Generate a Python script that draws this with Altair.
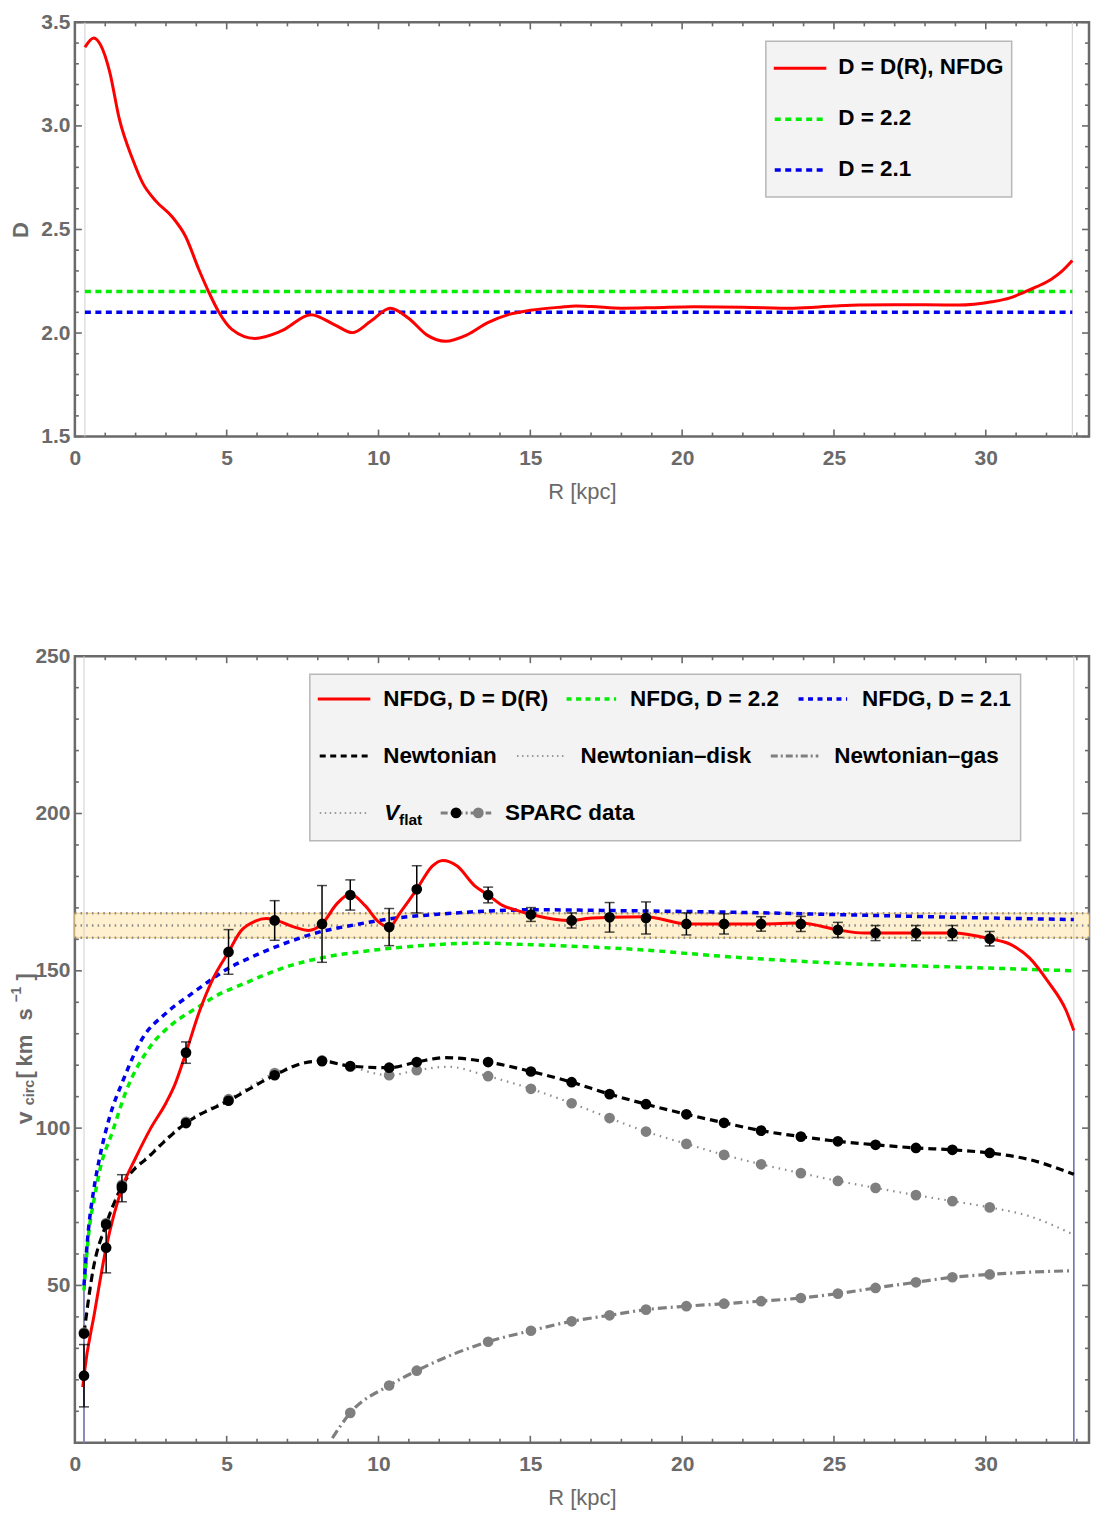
import altair as alt
import pandas as pd
import numpy as np

FONT = "Liberation Sans, Arial, sans-serif"
GRAY = "#6a6a6a"

# ---------------- top panel data ----------------
R_top = [0.33, 0.62, 0.85, 1.14, 1.47, 1.90, 2.23, 2.67, 3.21, 3.65, 4.08, 4.41, 4.73,
         5.17, 5.93, 6.8, 7.78, 8.54, 9.14, 9.74, 10.39, 11.0, 11.6, 12.2, 12.9, 13.6, 14.3,
         15.0, 16.0, 16.5, 17.0, 18.0, 19.0, 20.4, 22.0, 23.67, 25.0, 25.85, 27.0, 28.0, 29.1,
         30.2, 30.8, 31.28, 31.7, 32.16, 32.52, 32.85]
D_top = [3.38, 3.425, 3.39, 3.265, 3.03, 2.84, 2.725, 2.637, 2.56, 2.465, 2.308, 2.198, 2.104,
         2.018, 1.974, 2.01, 2.088, 2.041, 2.002, 2.057, 2.12, 2.07, 1.99, 1.96, 1.99, 2.05, 2.09,
         2.11, 2.125, 2.13, 2.128, 2.12, 2.122, 2.127, 2.125, 2.12, 2.13, 2.135, 2.137, 2.136, 2.135,
         2.151, 2.17, 2.198, 2.225, 2.26, 2.30, 2.35]
D_CONST = [2.2, 2.1]
R_SPAN_TOP = [0.33, 32.85]

# ---------------- bottom panel data ----------------
R_obs = [0.30, 1.03, 1.55, 3.66, 5.06, 6.58, 8.14, 9.07, 10.35, 11.26, 13.61, 15.02, 16.36,
         17.61, 18.81, 20.14, 21.38, 22.60, 23.91, 25.13, 26.37, 27.70, 28.90, 30.13]
V_obs = [21.3, 62.0, 80.9, 124.0, 156.0, 166.0, 164.9, 174.1, 163.9, 175.9, 174.1, 167.9, 166.0,
         167.0, 166.8, 164.9, 164.9, 164.9, 164.9, 163.0, 162.0, 162.0, 162.0, 160.2]
E_obs = [9.9, 8.0, 4.3, 3.4, 7.1, 6.3, 12.2, 4.8, 5.9, 7.5, 2.5, 2.2, 2.4,
         4.7, 5.1, 3.5, 3.2, 2.3, 2.4, 2.4, 2.4, 2.4, 2.4, 2.3]
V_newt_pts = [34.7, 69.4, 81.5, 101.6, 108.7, 116.8, 121.3, 119.7, 119.2, 121.0, 121.0, 118.0, 114.6,
              110.8, 107.6, 104.4, 101.7, 99.2, 97.3, 95.8, 94.7, 93.7, 93.1, 92.1]
V_disk_pts = [35.0, 69.8, 82.0, 102.0, 109.2, 117.5, 121.5, 119.5, 116.8, 118.4, 116.5, 112.5, 107.9,
              103.2, 98.9, 95.0, 91.5, 88.5, 85.7, 83.2, 81.0, 78.7, 76.8, 74.8]
R_gas_pts = [9.07, 10.35, 11.26, 13.61, 15.02, 16.36, 17.61, 18.81, 20.14, 21.38, 22.60, 23.91,
             25.13, 26.37, 27.70, 28.90, 30.13]
V_gas_pts = [9.5, 18.2, 22.9, 32.1, 35.6, 38.6, 40.5, 42.3, 43.4, 44.2, 45.0, 46.0,
             47.4, 49.2, 51.0, 52.6, 53.5]

R_red = [0.26, 0.30, 0.65, 1.03, 1.55, 2.0, 2.5, 3.0, 3.3, 3.66, 4.08, 4.55, 5.06, 5.48, 5.94, 6.3, 6.58,
         7.23, 7.69, 8.14, 8.62, 9.07, 9.56, 10.02, 10.35, 10.72, 11.26, 11.77, 12.12, 12.59, 13.17,
         13.61, 14.1, 14.53, 15.03, 15.74, 16.36, 16.94, 17.61, 18.81, 20.14, 21.38, 22.6, 23.91,
         25.13, 26.0, 27.7, 28.9, 30.13, 30.83, 31.44, 32.04, 32.65, 32.9]
V_red = [17.7, 21.3, 41.5, 62.0, 80.9, 90.5, 100.0, 108.0, 114.0, 124.0, 136.5, 147.5, 156.0, 162.8,
         165.8, 166.6, 166.2, 163.9, 162.8, 164.9, 171.2, 174.4, 170.7, 165.4, 163.9, 168.6, 175.9, 183.3,
         185.1, 183.3, 177.0, 174.1, 170.7, 169.3, 167.9, 166.5, 166.0, 166.7, 167.0, 167.2, 164.9,
         164.9, 164.9, 165.2, 163.0, 162.0, 162.0, 162.0, 160.2, 158.3, 154.1, 146.7, 137.3, 131.0]

R_green = [0.3, 0.45, 0.65, 0.82, 1.25, 1.69, 2.45, 3.2, 4.08, 4.55, 5.71, 6.88, 8.16, 9.79, 11.54,
           13.29, 15.03, 18.15, 21.78, 25.4, 29.0, 32.9]
V_green = [48.4, 66.0, 78.2, 86.6, 99.2, 111.8, 125.5, 133.0, 138.6, 141.5, 146.5, 151.0, 154.2, 156.5,
           158.1, 158.8, 158.3, 157.0, 154.3, 152.3, 151.2, 150.0]

R_blue = [0.3, 0.45, 0.62, 0.82, 1.14, 1.58, 2.23, 3.0, 3.86, 4.55, 5.06, 5.71, 6.88, 8.04, 9.21,
          10.37, 12.12, 13.87, 15.03, 18.15, 21.78, 25.4, 29.0, 32.9]
V_blue = [50.0, 68.0, 80.3, 90.8, 103.4, 115.0, 128.6, 136.5, 142.8, 147.6, 150.8, 153.9, 158.6, 162.3,
          164.6, 166.5, 168.1, 169.1, 169.4, 169.1, 168.6, 167.8, 167.0, 166.3]

R_newt = [0.3, 0.6, 1.03, 1.55, 2.5, 3.66, 5.06, 6.58, 7.46, 8.14, 9.07, 10.35, 11.26, 12.2, 13.61,
          15.02, 16.36, 17.61, 18.81, 20.14, 21.38, 22.6, 23.91, 25.13, 26.37, 27.7, 28.9, 30.13,
          31.44, 32.9]
V_newt = [34.7, 55.0, 69.4, 81.5, 91.5, 101.6, 108.7, 116.8, 120.5, 121.3, 119.7, 119.2, 121.0, 122.4,
          121.0, 118.0, 114.6, 110.8, 107.6, 104.4, 101.7, 99.2, 97.3, 95.8, 94.7, 93.7, 93.1, 92.1,
          90.0, 85.3]
R_disk = [0.3, 0.6, 1.03, 1.55, 2.5, 3.66, 5.06, 6.58, 8.14, 9.07, 10.35, 11.26, 12.3, 13.61, 15.02,
          16.36, 17.61, 18.81, 20.14, 21.38, 22.6, 23.91, 25.13, 26.37, 27.7, 28.9, 30.13, 31.44, 32.9]
V_disk = [35.0, 55.3, 69.8, 82.0, 92.0, 102.0, 109.2, 117.5, 121.5, 119.5, 116.8, 118.4, 119.5, 116.5,
          112.5, 107.9, 103.2, 98.9, 95.0, 91.5, 88.5, 85.7, 83.2, 81.0, 78.7, 76.8, 74.8, 72.0, 66.1]
R_gas = [8.48, 9.07, 10.35, 11.26, 13.61, 15.02, 16.36, 17.61, 18.81, 20.14, 21.38, 22.60, 23.91,
         25.13, 26.37, 27.70, 28.90, 30.13, 31.44, 32.9]
V_gas = [1.5, 9.5, 18.2, 22.9, 32.1, 35.6, 38.6, 40.5, 42.3, 43.4, 44.2, 45.0, 46.0,
         47.4, 49.2, 51.0, 52.6, 53.5, 54.2, 54.7]

VFLAT = [160.5, 164.4, 168.3]
R_SPAN_BOT = [0.30, 32.9]
V_BLUE_EDGE = [60.0, 131.0]

X_DOMAIN = [0, 33.4]
X_MAJOR = [0, 5, 10, 15, 20, 25, 30]
X_MINOR = [v for v in range(1, 34) if v % 5 != 0]
TOP_Y_MAJOR = [1.5, 2.0, 2.5, 3.0, 3.5]
TOP_Y_MINOR = [round(1.5 + 0.1 * i, 2) for i in range(21) if i % 5 != 0]
BOT_Y_MAJOR = [50, 100, 150, 200, 250]
BOT_Y_MINOR = [v for v in range(10, 250, 10) if v % 50 != 0]

W, H1, H2 = 1016, 415, 788
SX = W / 1023.0   # legend layout scale relative to reference plot width
SY = H2 / 790.0   # y-title layout scale relative to reference plot height

# ---------------- shared encodings ----------------
xs = alt.Scale(domain=X_DOMAIN, nice=False, zero=False)
x_axis = alt.Axis(values=X_MAJOR, ticks=False, domain=False, grid=False, labelFlush=False,
                  labelFont=FONT, labelFontSize=21, labelFontWeight="bold", labelColor=GRAY,
                  labelPadding=11, title="R [kpc]", titleFont=FONT, titleFontSize=22,
                  titleFontWeight="normal", titleColor=GRAY, titlePadding=13)
X = alt.X("R:Q", scale=xs, axis=x_axis)

ys_top = alt.Scale(domain=[1.5, 3.5], nice=False, zero=False)
y_axis_top = alt.Axis(values=TOP_Y_MAJOR, format=".1f", ticks=False, domain=False, grid=False,
                      labelFont=FONT, labelFontSize=21, labelFontWeight="bold", labelColor=GRAY,
                      labelPadding=5, title="D", titleFont=FONT, titleFontSize=22,
                      titleFontWeight="bold", titleColor=GRAY, titlePadding=8)
YT = alt.Y("D:Q", scale=ys_top, axis=y_axis_top)

ys_bot = alt.Scale(domain=[0, 250], nice=False, zero=False)
y_axis_bot = alt.Axis(values=BOT_Y_MAJOR, ticks=False, domain=False, grid=False,
                      labelFont=FONT, labelFontSize=21, labelFontWeight="bold", labelColor=GRAY,
                      labelPadding=5, title=None)
YB = alt.Y("V:Q", scale=ys_bot, axis=y_axis_bot)

ONE = pd.DataFrame({"a": [0]})
DOT = 115


def frame_ticks(ycol, Y, y_major, y_minor, H):
    out = []
    for vals, L in [(X_MAJOR, 7), (X_MINOR, 4)]:
        base = alt.Chart(pd.DataFrame({"R": vals})).mark_rule(color=GRAY, strokeWidth=1.6)
        out.append(base.encode(x=X, y=alt.value(H), y2=alt.value(H - L)))
        out.append(base.encode(x=X, y=alt.value(0), y2=alt.value(L)))
    for vals, L in [(y_major, 7), (y_minor, 4)]:
        base = alt.Chart(pd.DataFrame({ycol: vals})).mark_rule(color=GRAY, strokeWidth=1.6)
        out.append(base.encode(y=Y, x=alt.value(0), x2=alt.value(L)))
        out.append(base.encode(y=Y, x=alt.value(W), x2=alt.value(W - L)))
    return out


def box(x1, x2, y1, y2):
    return alt.Chart(ONE).mark_rect(fill="#f3f3f3", stroke="#b8b8b8", strokeWidth=1.5).encode(
        x=alt.value(x1 * SX), x2=alt.value(x2 * SX), y=alt.value(y1), y2=alt.value(y2))


def sample(x1, x2, y, color, dash, width):
    kw = dict(color=color, strokeWidth=width)
    if dash:
        kw["strokeDash"] = dash
    return alt.Chart(ONE).mark_rule(**kw).encode(
        x=alt.value(x1 * SX), x2=alt.value(x2 * SX), y=alt.value(y))


def label(x, y, text, size=22.5, style="normal", weight="bold", color="black", align="left",
          baseline="middle", angle=0, scale_x=True):
    kw = dict(font=FONT, fontSize=size, fontWeight=weight, fontStyle=style, color=color,
              align=align, baseline=baseline)
    if angle:
        kw["angle"] = angle
    xv = x * SX if scale_x else x
    return alt.Chart(ONE).mark_text(**kw).encode(x=alt.value(xv), y=alt.value(y), text=alt.value(text))


def dot(x, y, color):
    return alt.Chart(ONE).mark_circle(size=DOT, color=color, opacity=1).encode(
        x=alt.value(x * SX), y=alt.value(y))


# ---------------- top chart ----------------
df_top = pd.DataFrame({"R": R_top, "D": D_top})
df_span_top = pd.DataFrame({"R": R_SPAN_TOP})
df_const = pd.DataFrame({"R": [R_SPAN_TOP[0]] * 2, "R2": [R_SPAN_TOP[1]] * 2, "D": D_CONST})

top_layers = [
    alt.Chart(df_span_top).mark_rule(color="#d0d0d0", strokeWidth=1).encode(x=X),
    alt.Chart(df_const.iloc[[0]]).mark_rule(color="#00ee00", strokeWidth=3.5, strokeDash=[6, 4.5]).encode(
        x=X, x2="R2:Q", y=YT),
    alt.Chart(df_const.iloc[[1]]).mark_rule(color="#0000ee", strokeWidth=3.5, strokeDash=[6, 4.5]).encode(
        x=X, x2="R2:Q", y=YT),
    alt.Chart(df_top).mark_line(color="#ff0000", strokeWidth=3, interpolate="monotone").encode(x=X, y=YT),
]
top_layers += frame_ticks("D", YT, TOP_Y_MAJOR, TOP_Y_MINOR, H1)
top_layers += [
    box(697, 945, 19, 175),
    sample(705, 758, 46, "#ff0000", None, 3),
    sample(706, 756, 97, "#00ee00", [6, 4.5], 3.5),
    sample(706, 756, 148, "#0000ee", [6, 4.5], 3.5),
    label(770, 45, "D = D(R), NFDG"),
    label(770, 96, "D = 2.2"),
    label(770, 147, "D = 2.1"),
]
top = alt.layer(*top_layers).properties(width=W, height=H1)

# ---------------- bottom chart ----------------
df_band = pd.DataFrame({"R": [X_DOMAIN[0]], "R2": [X_DOMAIN[1]], "V": [VFLAT[0]], "V2": [VFLAT[2]]})
df_vflat = pd.DataFrame({"R": [X_DOMAIN[0]] * 3, "R2": [X_DOMAIN[1]] * 3, "V": VFLAT})
df_span_bot = pd.DataFrame({"R": R_SPAN_BOT, "V": [0, 0], "V2": V_BLUE_EDGE})
df_obs = pd.DataFrame({"R": R_obs, "V": V_obs,
                       "lo": [v - e for v, e in zip(V_obs, E_obs)],
                       "hi": [v + e for v, e in zip(V_obs, E_obs)]})
df_newt_pts = pd.DataFrame({"R": R_obs, "V": V_newt_pts})
df_disk_pts = pd.DataFrame({"R": R_obs, "V": V_disk_pts})
df_gas_pts = pd.DataFrame({"R": R_gas_pts, "V": V_gas_pts})

bot_layers = [
    alt.Chart(df_band).mark_rect(fill="#fff0cf", stroke="#f2cc7a", strokeWidth=1).encode(
        x=X, x2="R2:Q", y=YB, y2="V2:Q"),
    alt.Chart(df_vflat).mark_rule(color="#8a8a8a", strokeWidth=2.5, strokeDash=[1.5, 4.2]).encode(
        x=X, x2="R2:Q", y=YB),
    alt.Chart(df_span_bot).mark_rule(color="#cfcfcf", strokeWidth=1).encode(x=X),
    alt.Chart(df_span_bot).mark_rule(color="#6c6cb4", strokeWidth=1.5).encode(x=X, y=YB, y2="V2:Q"),
    alt.Chart(pd.DataFrame({"R": R_gas, "V": V_gas})).mark_line(
        color="#7f7f7f", strokeWidth=3.2, strokeDash=[9, 4, 2, 4], interpolate="monotone", clip=True).encode(x=X, y=YB),
    alt.Chart(pd.DataFrame({"R": R_disk, "V": V_disk})).mark_line(
        color="#8c8c8c", strokeWidth=2.2, strokeDash=[1.5, 5], interpolate="monotone").encode(x=X, y=YB),
    alt.Chart(pd.DataFrame({"R": R_newt, "V": V_newt})).mark_line(
        color="black", strokeWidth=3.2, strokeDash=[8, 5], interpolate="monotone").encode(x=X, y=YB),
    alt.Chart(pd.DataFrame({"R": R_green, "V": V_green})).mark_line(
        color="#00ee00", strokeWidth=3.5, strokeDash=[6, 5], interpolate="monotone").encode(x=X, y=YB),
    alt.Chart(pd.DataFrame({"R": R_blue, "V": V_blue})).mark_line(
        color="#0000ee", strokeWidth=3.5, strokeDash=[6, 5], interpolate="monotone").encode(x=X, y=YB),
    alt.Chart(pd.DataFrame({"R": R_red, "V": V_red})).mark_line(
        color="#ff0000", strokeWidth=3, interpolate="monotone").encode(x=X, y=YB),
    alt.Chart(df_gas_pts).mark_circle(size=DOT, color="#7f7f7f", opacity=1).encode(x=X, y=YB),
    alt.Chart(df_disk_pts).mark_circle(size=DOT, color="#7f7f7f", opacity=1).encode(x=X, y=YB),
    alt.Chart(df_newt_pts).mark_circle(size=DOT, color="black", opacity=1).encode(x=X, y=YB),
    alt.Chart(df_obs).mark_rule(color="black", strokeWidth=1.5).encode(
        x=X, y=alt.Y("lo:Q", scale=ys_bot, axis=y_axis_bot), y2="hi:Q"),
    alt.Chart(df_obs).mark_tick(orient="horizontal", color="black", size=10, thickness=1.5).encode(
        x=X, y=alt.Y("lo:Q", scale=ys_bot, axis=y_axis_bot)),
    alt.Chart(df_obs).mark_tick(orient="horizontal", color="black", size=10, thickness=1.5).encode(
        x=X, y=alt.Y("hi:Q", scale=ys_bot, axis=y_axis_bot)),
    alt.Chart(df_obs).mark_circle(size=DOT, color="black", opacity=1).encode(x=X, y=YB),
]
bot_layers += frame_ticks("V", YB, BOT_Y_MAJOR, BOT_Y_MINOR, H2)

# legend (pixel layout inside the plot area)
r1, r2, r3 = 43, 100, 157
bot_layers += [
    box(237, 954, 18, 185),
    sample(245, 298, r1, "#ff0000", None, 3),
    label(311, r1, "NFDG, D = D(R)"),
    sample(496, 546, r1, "#00ee00", [5, 4.5], 3.5),
    label(560, r1, "NFDG, D = 2.2"),
    sample(730, 779, r1, "#0000ee", [5, 4.5], 3.5),
    label(794, r1, "NFDG, D = 2.1"),
    sample(247, 296, r2, "black", [6, 4.5], 3),
    label(311, r2, "Newtonian"),
    sample(446, 495, r2, "#9a9a9a", [1.5, 3.5], 2),
    label(510, r2, "Newtonian\u2013disk"),
    sample(702, 750, r2, "#7f7f7f", [7, 3, 2, 3], 3),
    label(766, r2, "Newtonian\u2013gas"),
    sample(247, 296, r3, "#9a9a9a", [1.5, 3.5], 2),
    label(312, r3, "V", style="italic"),
    label(327, r3 + 7, "flat", size=15.5),
    sample(369, 420, r3, "#7f7f7f", [7, 3, 2, 3], 3),
    dot(384.5, r3, "black"),
    dot(407, r3, "#7f7f7f"),
    label(434, r3, "SPARC data"),
]

# rotated y title: v_circ [km s^-1]
YT_PARTS = [("v", -43, 470, 23), ("circ", -41, 451, 14.5), ("[", -43, 424, 22),
            ("km", -43, 412, 22), ("s", -43, 366, 22), ("\u22121", -54, 348, 14), ("]", -43, 326, 22)]
bot_layers += [label(x, (y - 395) + 395 * SY, t, size=s, color=GRAY, baseline="alphabetic",
                     angle=270, scale_x=False)
               for t, x, y, s in YT_PARTS]

bottom = alt.layer(*bot_layers).properties(width=W, height=H2)

chart = alt.vconcat(top, bottom, spacing=139).properties(padding=0).configure(
    font=FONT, padding=0).configure_view(stroke=GRAY, strokeWidth=2.5)

chart.save("out.html", embed_options={"renderer": "svg", "actions": False})
